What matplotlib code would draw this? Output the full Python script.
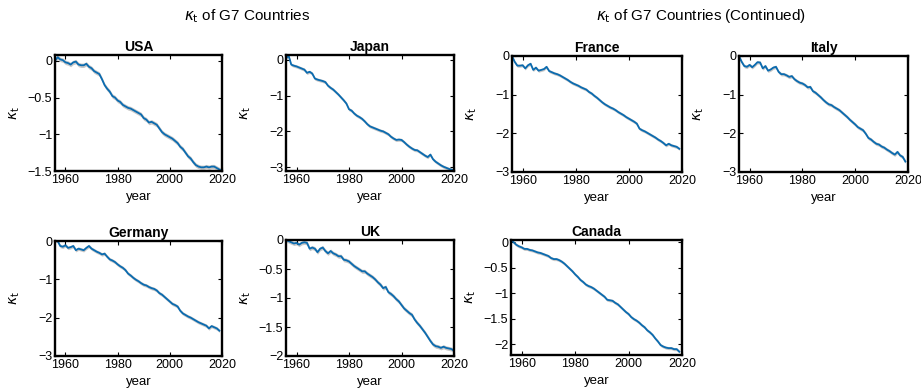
import numpy as np
import matplotlib
matplotlib.use("Agg")
import matplotlib.pyplot as plt
from matplotlib.ticker import FixedLocator, FuncFormatter

plt.rcParams["font.family"] = ["Liberation Sans", "DejaVu Sans"]
plt.rcParams["mathtext.fontset"] = "dejavusans"

# estimated kappa_t paths (period index of the Lee-Carter fit), one value per year
usa = [0.0, 0.05, 0.02, 0.01,
       -0.02, -0.03, -0.05, -0.02, -0.01, -0.05, -0.06, -0.06, -0.04, -0.08,
       -0.10, -0.14, -0.16, -0.18, -0.25, -0.33, -0.38, -0.42, -0.48, -0.50,
       -0.54, -0.56, -0.60, -0.62, -0.64, -0.65, -0.67, -0.69, -0.71, -0.73,
       -0.78, -0.80, -0.84, -0.83, -0.85, -0.87, -0.92, -0.97, -1.00, -1.02,
       -1.04, -1.06, -1.09, -1.12, -1.17, -1.20, -1.25, -1.30, -1.33, -1.38,
       -1.42, -1.44, -1.45, -1.45, -1.44, -1.45, -1.44, -1.44, -1.46, -1.48,
       -1.50]
japan = [0.05, 0.12, -0.13, -0.16,
         -0.18, -0.21, -0.24, -0.27, -0.36, -0.33, -0.38, -0.52, -0.55, -0.57,
         -0.59, -0.62, -0.72, -0.78, -0.83, -0.90, -0.97, -1.05, -1.13, -1.22,
         -1.38, -1.42, -1.50, -1.56, -1.60, -1.65, -1.72, -1.80, -1.86, -1.89,
         -1.92, -1.95, -1.98, -2.00, -2.04, -2.08, -2.15, -2.20, -2.24, -2.23,
         -2.24, -2.30, -2.37, -2.43, -2.48, -2.52, -2.53, -2.58, -2.63, -2.68,
         -2.72, -2.65, -2.78, -2.85, -2.90, -2.95, -2.99, -3.02, -3.05, -3.07,
         -3.09]
uk = [0.0, -0.02, -0.04, -0.06,
      -0.05, -0.08, -0.05, -0.04, -0.05, -0.15, -0.13, -0.15, -0.21, -0.15,
      -0.13, -0.19, -0.23, -0.19, -0.23, -0.25, -0.28, -0.28, -0.34, -0.35,
      -0.37, -0.41, -0.45, -0.48, -0.51, -0.54, -0.54, -0.58, -0.61, -0.64,
      -0.68, -0.73, -0.77, -0.83, -0.81, -0.90, -0.93, -0.97, -1.02, -1.06,
      -1.12, -1.18, -1.22, -1.26, -1.29, -1.37, -1.43, -1.48, -1.54, -1.60,
      -1.67, -1.74, -1.80, -1.83, -1.84, -1.86, -1.84, -1.86, -1.87, -1.88,
      -1.91]
france = [0.0, -0.15, -0.25, -0.25,
          -0.24, -0.32, -0.24, -0.20, -0.36, -0.30, -0.38, -0.36, -0.34, -0.28,
          -0.39, -0.42, -0.45, -0.47, -0.50, -0.54, -0.58, -0.62, -0.67, -0.71,
          -0.74, -0.77, -0.81, -0.84, -0.87, -0.93, -0.97, -1.03, -1.08, -1.14,
          -1.20, -1.25, -1.29, -1.33, -1.36, -1.40, -1.45, -1.49, -1.53, -1.58,
          -1.62, -1.66, -1.70, -1.75, -1.88, -1.92, -1.95, -1.99, -2.03, -2.07,
          -2.11, -2.16, -2.20, -2.25, -2.31, -2.27, -2.31, -2.33, -2.35, -2.40]
italy = [0.0, -0.15, -0.26, -0.28,
         -0.23, -0.29, -0.23, -0.16, -0.17, -0.32, -0.26, -0.38, -0.35, -0.30,
         -0.28, -0.41, -0.47, -0.47, -0.50, -0.54, -0.52, -0.60, -0.65, -0.69,
         -0.71, -0.75, -0.81, -0.80, -0.91, -0.95, -1.01, -1.07, -1.14, -1.20,
         -1.25, -1.27, -1.32, -1.36, -1.40, -1.46, -1.52, -1.58, -1.65, -1.71,
         -1.77, -1.84, -1.88, -1.92, -2.01, -2.12, -2.16, -2.22, -2.27, -2.29,
         -2.34, -2.37, -2.42, -2.46, -2.51, -2.55, -2.48, -2.57, -2.61, -2.73]
germany = [0.02, 0.0, -0.13, -0.15,
           -0.11, -0.18, -0.16, -0.13, -0.24, -0.20, -0.22, -0.24, -0.18, -0.13,
           -0.20, -0.24, -0.28, -0.31, -0.35, -0.33, -0.41, -0.48, -0.51, -0.55,
           -0.61, -0.66, -0.70, -0.76, -0.85, -0.90, -0.96, -1.01, -1.05, -1.10,
           -1.14, -1.16, -1.20, -1.23, -1.25, -1.29, -1.36, -1.40, -1.46, -1.52,
           -1.58, -1.64, -1.67, -1.71, -1.82, -1.89, -1.93, -1.97, -2.00, -2.04,
           -2.08, -2.12, -2.15, -2.18, -2.21, -2.28, -2.22, -2.25, -2.28, -2.34]
canada = [0.04, 0.0, -0.05, -0.08,
          -0.10, -0.13, -0.13, -0.15, -0.16, -0.18, -0.20, -0.21, -0.23, -0.25,
          -0.27, -0.31, -0.33, -0.33, -0.35, -0.38, -0.42, -0.47, -0.52, -0.57,
          -0.63, -0.68, -0.74, -0.78, -0.83, -0.86, -0.88, -0.91, -0.95, -0.99,
          -1.03, -1.07, -1.13, -1.14, -1.15, -1.19, -1.22, -1.27, -1.32, -1.37,
          -1.41, -1.47, -1.51, -1.54, -1.58, -1.63, -1.67, -1.73, -1.77, -1.82,
          -1.89, -1.95, -2.02, -2.05, -2.07, -2.08, -2.08, -2.10, -2.10, -2.15]

# half-width of the pointwise confidence band
band = {"USA": 0.03, "Japan": 0.045, "France": 0.04, "Italy": 0.045,
        "Germany": 0.045, "UK": 0.035, "Canada": 0.03}

ylims = {"USA": (-1.5, 0.08), "Japan": (-3.11, 0.14), "France": (-3, 0),
         "Italy": (-3, 0), "Germany": (-3, 0), "UK": (-2, 0),
         "Canada": (-2.215, 0.045)}
yticks = {"USA": [-1.5, -1, -0.5, 0], "Japan": [-3, -2, -1, 0],
          "France": [-3, -2, -1, 0], "Italy": [-3, -2, -1, 0],
          "Germany": [-3, -2, -1, 0], "UK": [-2, -1.5, -1, -0.5, 0],
          "Canada": [-2, -1.5, -1, -0.5, 0]}
xticks = [1960, 1980, 2000, 2020]
first_year = 1956

series = {"USA": usa, "Japan": japan, "Germany": germany, "UK": uk,
          "France": france, "Italy": italy, "Canada": canada}

W, H = 921, 391
# axes boxes in pixels: left, top, right, bottom
boxes = {
    "USA": (55, 55, 222, 171),
    "Japan": (286, 55, 454, 171),
    "Germany": (55, 241, 222, 356),
    "UK": (286, 240, 454, 356),
    "France": (512, 56, 682, 172),
    "Italy": (739, 56, 908, 172),
    "Canada": (511, 240, 682, 355),
}

BLUE = "#0a6bb0"


def minus_fmt(v, pos):
    return f"{v:g}".replace("-", "\u2212")


fig = plt.figure(figsize=(W / 100, H / 100), dpi=100)

for name, vals in series.items():
    l, t, r, b = boxes[name]
    ax = fig.add_axes([l / W, 1 - b / H, (r - l) / W, (b - t) / H])
    y = np.array(vals)
    x = np.arange(first_year, first_year + len(y))
    ax.fill_between(x, y - band[name], y + band[name], color="#bdbdbd",
                    alpha=0.85, lw=0)
    ax.plot(x, y, color=BLUE, lw=1.3)
    ax.set_xlim(1956, 2020)
    ax.set_ylim(*ylims[name])
    ax.xaxis.set_major_locator(FixedLocator(xticks))
    ax.yaxis.set_major_locator(FixedLocator(yticks[name]))
    ax.yaxis.set_major_formatter(FuncFormatter(minus_fmt))
    ax.tick_params(direction="in", length=3, width=0.8, labelsize=9,
                   top=True, right=True, pad=2)
    for sp in ax.spines.values():
        sp.set_linewidth(1.7)
    ax.set_title(name, fontsize=10, fontweight="bold", pad=3)
    ax.set_xlabel("year", fontsize=9.5, labelpad=4)
    ax.set_ylabel(r"$\kappa_{\rm t}$", fontsize=10)
    ax.yaxis.set_label_coords(-33 / (r - l), 0.5)

fig.text(247 / W, 1 - 16 / H, r"$\kappa_{\rm t}$ of G7 Countries",
         ha="center", va="center", fontsize=11)
fig.text(701 / W, 1 - 16 / H, r"$\kappa_{\rm t}$ of G7 Countries (Continued)",
         ha="center", va="center", fontsize=11)

fig.savefig("out.png", dpi=100)
